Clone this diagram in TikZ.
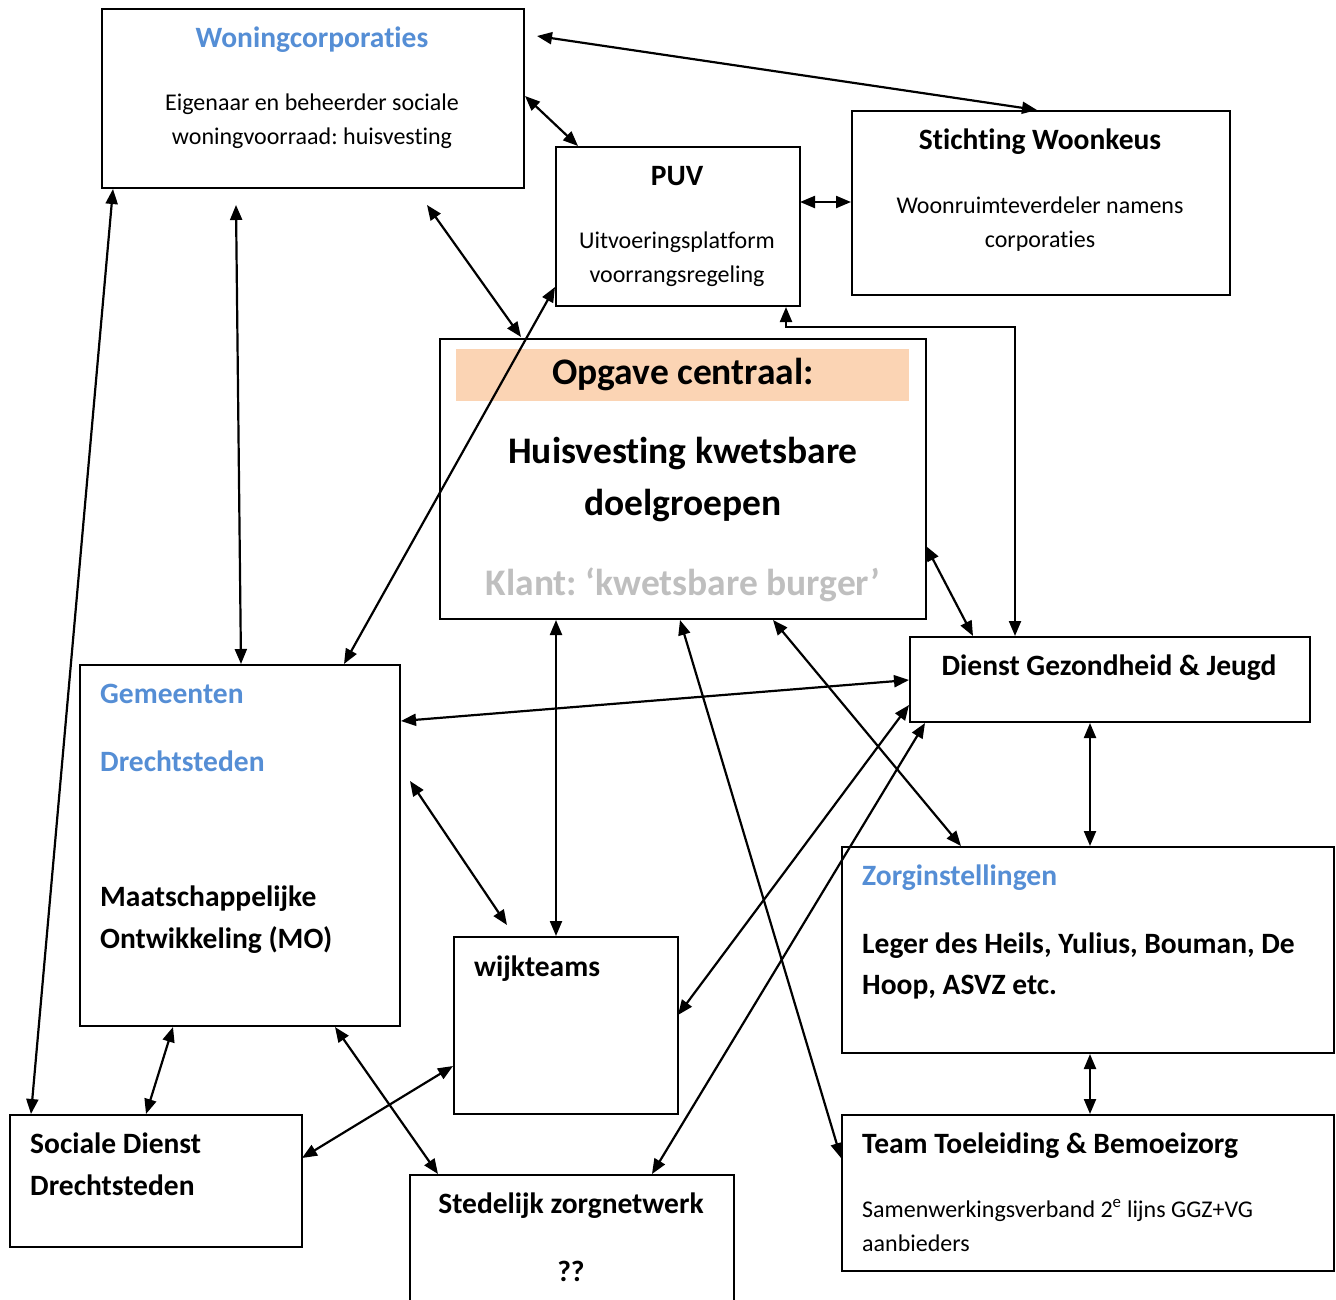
\documentclass[tikz,border=0pt]{standalone}
\usepackage{fontspec}
\setmainfont{Carlito}[Ligatures=NoCommon]
\frenchspacing
\usetikzlibrary{arrows.meta,calc}
\definecolor{hdrblue}{RGB}{85,142,213}
\definecolor{peach}{RGB}{251,212,180}
\definecolor{lgray}{RGB}{191,191,191}
\tikzset{
  box/.style={draw=black,line width=1.5pt,fill=white,anchor=north west,inner sep=0pt},
  dbl/.style={line width=2.2pt,{Triangle[length=15pt,width=12pt]}-{Triangle[length=15pt,width=12pt]}},
  reg/.style={font=\fontsize{24}{28}\selectfont,inner sep=0pt},
  hdr/.style={font=\fontsize{29.5}{34}\selectfont\bfseries,inner sep=0pt},
  big/.style={font=\fontsize{37.5}{44}\selectfont\bfseries,inner sep=0pt},
}
\begin{document}
\begin{tikzpicture}[x=1pt,y=-1pt]
\useasboundingbox (0,0) rectangle (1336,1299);
\clip (0,0) rectangle (1336,1299);
% boxes
\node[box,minimum width=422pt,minimum height=179pt] (woning) at (101,8) {};
\node[box,minimum width=244pt,minimum height=159pt] (puv) at (555,146) {};
\node[box,minimum width=378pt,minimum height=184pt] (woonkeus) at (851,110) {};
\node[box,minimum width=486pt,minimum height=280pt] (opgave) at (439,338) {};
\node[anchor=north west,fill=peach,minimum width=453pt,minimum height=52pt,inner sep=0pt] (band) at (456,349) {};
\node[box,minimum width=400pt,minimum height=85pt] (dgj) at (909,636) {};
\node[box,minimum width=320pt,minimum height=361pt] (gem) at (79,664) {};
\node[box,minimum width=224pt,minimum height=177pt] (wijk) at (453,936) {};
\node[box,minimum width=492pt,minimum height=206pt] (zorg) at (841,846) {};
\node[box,minimum width=292pt,minimum height=132pt] (soc) at (9,1114) {};
\node[box,minimum width=324pt,minimum height=160pt] (sted) at (409,1174) {};
\node[box,minimum width=492pt,minimum height=156pt] (team) at (841,1114) {};
% texts
\node[hdr,text=hdrblue,anchor=base] (t1) at (312,47) {Woningcorporaties};
\node[reg,anchor=base] (t2) at (312,110) {Eigenaar en beheerder sociale};
\node[reg,anchor=base] (t3) at (312,144) {woningvoorraad: huisvesting};
\node[hdr,anchor=base] (t4) at (677,185) {PUV};
\node[reg,anchor=base] (t5) at (677,248) {Uitvoeringsplatform};
\node[reg,anchor=base] (t6) at (677,282) {voorrangsregeling};
\node[hdr,anchor=base] (t7) at (1040,149) {Stichting Woonkeus};
\node[reg,anchor=base] (t8) at (1040,213) {Woonruimteverdeler namens};
\node[reg,anchor=base] (t9) at (1040,247) {corporaties};
\node[big,anchor=base] (t10) at (683,384) {Opgave centraal:};
\node[big,anchor=base] (t11) at (683,463) {Huisvesting kwetsbare};
\node[big,anchor=base] (t12) at (683,515) {doelgroepen};
\node[big,text=lgray,anchor=base] (t13) at (683,595) {Klant: ‘kwetsbare burger’};
\node[hdr,anchor=base] (t14) at (1109,675) {Dienst Gezondheid \& Jeugd};
\node[hdr,text=hdrblue,anchor=base west] (t15) at (100,703) {Gemeenten};
\node[hdr,text=hdrblue,anchor=base west] (t16) at (100,771) {Drechtsteden};
\node[hdr,anchor=base west] (t17) at (100,906) {Maatschappelijke};
\node[hdr,anchor=base west] (t18) at (100,948) {Ontwikkeling (MO)};
\node[hdr,anchor=base west] (t19) at (474,976) {wijkteams};
\node[hdr,text=hdrblue,anchor=base west] (t20) at (862,885) {Zorginstellingen};
\node[hdr,anchor=base west] (t21) at (862,953) {Leger des Heils, Yulius, Bouman, De};
\node[hdr,anchor=base west] (t22) at (862,994) {Hoop, ASVZ etc.};
\node[hdr,anchor=base west] (t23) at (30,1153) {Sociale Dienst};
\node[hdr,anchor=base west] (t24) at (30,1195) {Drechtsteden};
\node[hdr,anchor=base] (t25) at (571,1213) {Stedelijk zorgnetwerk};
\node[hdr,anchor=base] (t26) at (571,1281) {??};
\node[hdr,anchor=base west] (t27) at (862,1153) {Team Toeleiding \& Bemoeizorg};
\node[reg,anchor=base west] (t28) at (862,1217) {Samenwerkingsverband 2\textsuperscript{e} lijns GGZ+VG};
\node[reg,anchor=base west] (t29) at (862,1251) {aanbieders};
% connectors
\draw[dbl] ($(woning.north west)+(436,28)$) -- ($(woonkeus.north west)+(186,0)$);
\draw[dbl] ($(woning.north west)+(424,88)$) -- ($(puv.north west)+(23,0)$);
\draw[dbl] ($(puv.north west)+(245,56)$) -- ($(woonkeus.north west)+(0,92)$);
\draw[dbl] ($(woning.north west)+(326,197)$) -- ($(opgave.north west)+(82,-1)$);
\draw[dbl] ($(woning.north west)+(135,197)$) -- ($(gem.north west)+(162,0)$);
\draw[dbl] ($(woning.north west)+(12,181)$) -- ($(soc.north west)+(22,0)$);
\draw[dbl] ($(puv.north west)+(0,141)$) -- ($(gem.north west)+(265,0)$);
\draw[dbl] ($(puv.north west)+(231,161)$) -- ++(0,20) -| ($(dgj.north west)+(106,0)$);
\draw[dbl] ($(opgave.north west)+(487,208)$) -- ($(dgj.north west)+(64,0)$);
\draw[dbl] ($(opgave.north west)+(117,282)$) -- ($(wijk.north west)+(103,0)$);
\draw[dbl] ($(opgave.north west)+(241,282)$) -- ($(team.north west)+(0,44)$);
\draw[dbl] ($(opgave.north west)+(334,282)$) -- ($(zorg.north west)+(120,0)$);
\draw[dbl] ($(gem.north west)+(322,57)$) -- ($(dgj.north west)+(0,44)$);
\draw[dbl] ($(gem.north west)+(331,117)$) -- ($(wijk.north west)+(54,-11)$);
\draw[dbl] ($(dgj.north west)+(0,69)$) -- ($(wijk.north west)+(225,79)$);
\draw[dbl] ($(dgj.north west)+(16,87)$) -- ($(sted.north west)+(243,0)$);
\draw[dbl] ($(dgj.north west)+(181,87)$) -- ($(zorg.north west)+(249,0)$);
\draw[dbl] ($(zorg.north west)+(249,208)$) -- ($(team.north west)+(249,0)$);
\draw[dbl] ($(gem.north west)+(94,363)$) -- ($(soc.north west)+(137,0)$);
\draw[dbl] ($(gem.north west)+(256,363)$) -- ($(sted.north west)+(29,0)$);
\draw[dbl] ($(wijk.north west)+(0,130)$) -- ($(soc.north west)+(293,44)$);
\end{tikzpicture}
\end{document}
